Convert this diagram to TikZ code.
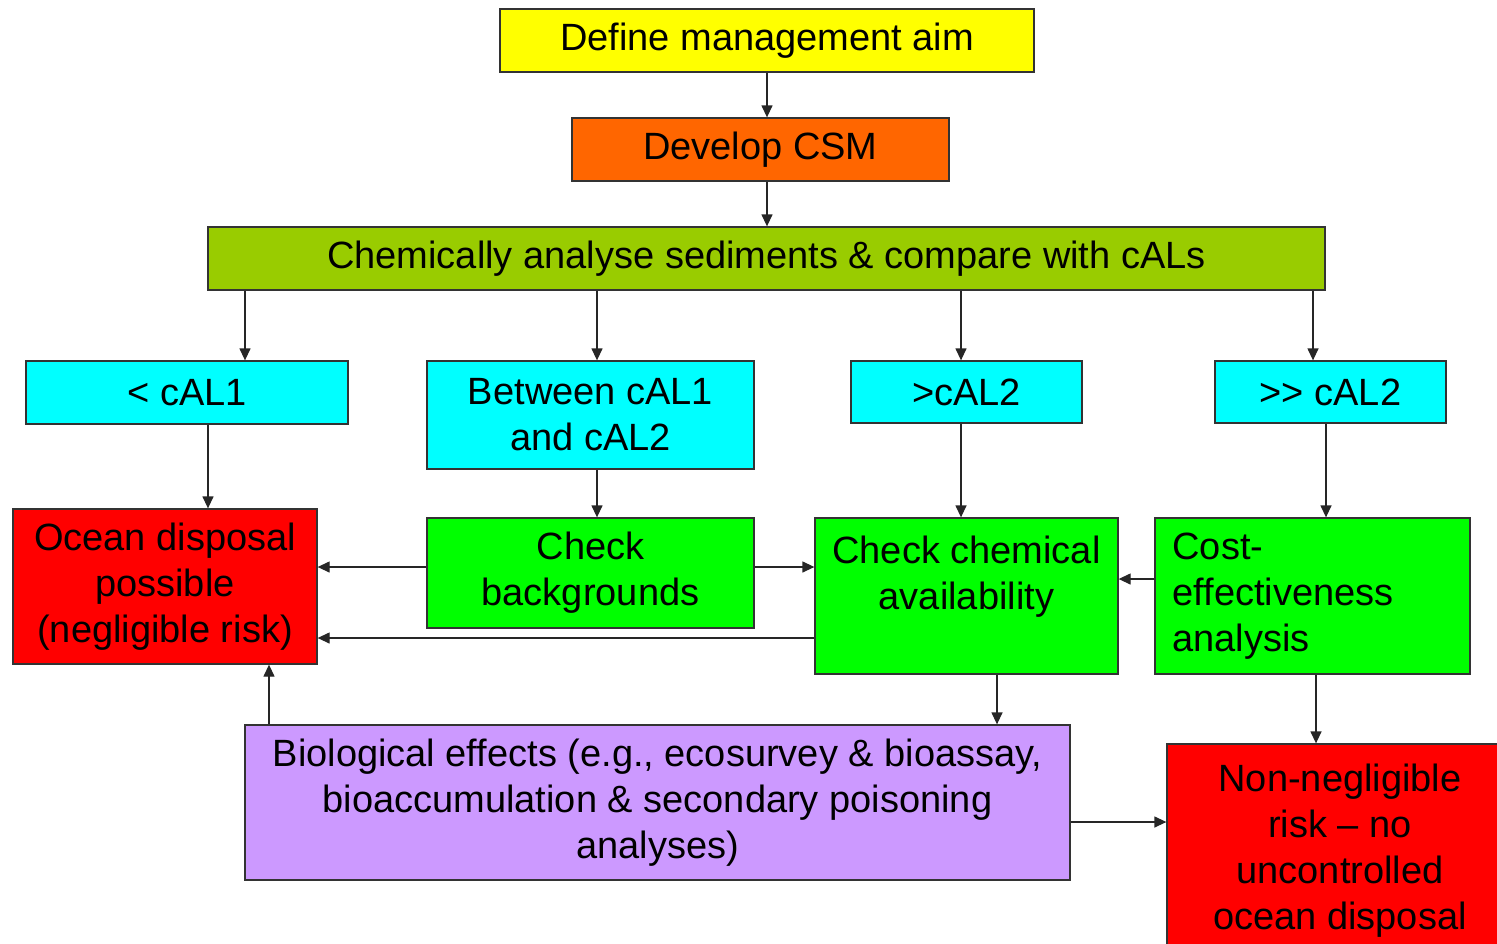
\documentclass[tikz,border=0pt]{standalone}
\usepackage{fontspec}
\setmainfont{Liberation Sans}
\usetikzlibrary{arrows.meta}

\definecolor{aimyellow}{HTML}{FFFF00}
\definecolor{csmorange}{HTML}{FF6600}
\definecolor{chemolive}{HTML}{99CC00}
\definecolor{calcyan}{HTML}{00FFFF}
\definecolor{riskred}{HTML}{FF0000}
\definecolor{checkgreen}{HTML}{00FF00}
\definecolor{biolilac}{HTML}{CC99FF}

\begin{document}
\begin{tikzpicture}[x=1pt, y=-1pt, >={Triangle[length=12pt,width=11pt]},
    box/.style={draw=black!80, line width=1.3pt, align=center, inner sep=4pt,
        font=\fontsize{38}{46}\selectfont},
    arr/.style={->, line width=1.3pt, draw=black!85}]
    \useasboundingbox (0,0) rectangle (1497,943);
    \clip (0,0) rectangle (1497,943);

    % Top of the chain
    \node[box, fill=aimyellow, minimum width=534pt, minimum height=63pt] (aim) at (767,40.5) {Define management aim};
    \node[box, fill=csmorange, minimum width=377pt, minimum height=63pt] (csm) at (760.5,149.5) {Develop CSM};
    \node[box, fill=chemolive, minimum width=1117pt, minimum height=63pt] (chem) at (766.5,258.5) {Chemically analyse sediments \& compare with cALs};

    % Comparison with cALs
    \node[box, fill=calcyan, minimum width=322pt, minimum height=63pt] (lt) at (187,392.5) {< cAL1};
    \node[box, fill=calcyan, minimum width=327pt, minimum height=108pt] (betw) at (590.5,415) {Between cAL1\\and cAL2};
    \node[box, fill=calcyan, minimum width=231pt, minimum height=62pt] (gt) at (966.5,392) {>cAL2};
    \node[box, fill=calcyan, minimum width=231pt, minimum height=62pt] (ggt) at (1330.5,392) {>{}> cAL2};

    % Checks and outcomes
    \node[box, fill=riskred, minimum width=304pt, minimum height=155pt] (ocean) at (165,586.5) {Ocean disposal\\possible\\(negligible risk)};
    \node[box, fill=checkgreen, minimum width=327pt, minimum height=110pt] (bg) at (590.5,573) {Check\\backgrounds};
    \node[box, fill=checkgreen, minimum width=303pt, minimum height=156pt] (avail) at (966.5,596) {Check chemical\\availability\\\mbox{}};
    \node[box, fill=checkgreen, minimum width=315pt, minimum height=156pt, text width=280pt, align=left] (cost) at (1312.5,596) {Cost-\\effectiveness\\analysis};
    \node[box, fill=biolilac, minimum width=825pt, minimum height=155pt] (bio) at (657.5,802.5) {Biological effects (e.g., ecosurvey \& bioassay,\\bioaccumulation \& secondary poisoning\\analyses)};
    \node[box, fill=riskred, minimum width=346pt, minimum height=214pt] (nonneg) at (1340,851) {Non-negligible\\risk -- no\\uncontrolled\\ocean disposal};

    % Where the arrows run
    \coordinate (xlt) at (245,0);
    \coordinate (xbetw) at (597,0);
    \coordinate (xgt) at (961,0);
    \coordinate (xggt) at (1313,0);
    \coordinate (xocean) at (208,0);
    \coordinate (xcost) at (1326,0);
    \coordinate (xbio) at (997,0);
    \coordinate (xup) at (269,0);
    \coordinate (xnon) at (1316,0);
    \coordinate (ybg) at (0,567);
    \coordinate (yavail) at (0,638);
    \coordinate (ycost) at (0,579);
    \coordinate (ybio) at (0,822);

    % Arrows
    \draw[arr] (aim.south) -- (aim.south |- csm.north);
    \draw[arr] (aim.south |- csm.south) -- (aim.south |- chem.north);
    \draw[arr] (chem.south -| xlt) -- (lt.north -| xlt);
    \draw[arr] (chem.south -| xbetw) -- (betw.north -| xbetw);
    \draw[arr] (chem.south -| xgt) -- (gt.north -| xgt);
    \draw[arr] (chem.south -| xggt) -- (ggt.north -| xggt);
    \draw[arr] (lt.south -| xocean) -- (ocean.north -| xocean);
    \draw[arr] (betw.south -| xbetw) -- (bg.north -| xbetw);
    \draw[arr] (gt.south -| xgt) -- (avail.north -| xgt);
    \draw[arr] (ggt.south -| xcost) -- (cost.north -| xcost);
    \draw[arr] (bg.west |- ybg) -- (ocean.east |- ybg);
    \draw[arr] (bg.east |- ybg) -- (avail.west |- ybg);
    \draw[arr] (avail.west |- yavail) -- (ocean.east |- yavail);
    \draw[arr] (cost.west |- ycost) -- (avail.east |- ycost);
    \draw[arr] (avail.south -| xbio) -- (bio.north -| xbio);
    \draw[arr] (bio.north -| xup) -- (ocean.south -| xup);
    \draw[arr] (cost.south -| xnon) -- (nonneg.north -| xnon);
    \draw[arr] (bio.east |- ybio) -- (nonneg.west |- ybio);
\end{tikzpicture}
\end{document}
